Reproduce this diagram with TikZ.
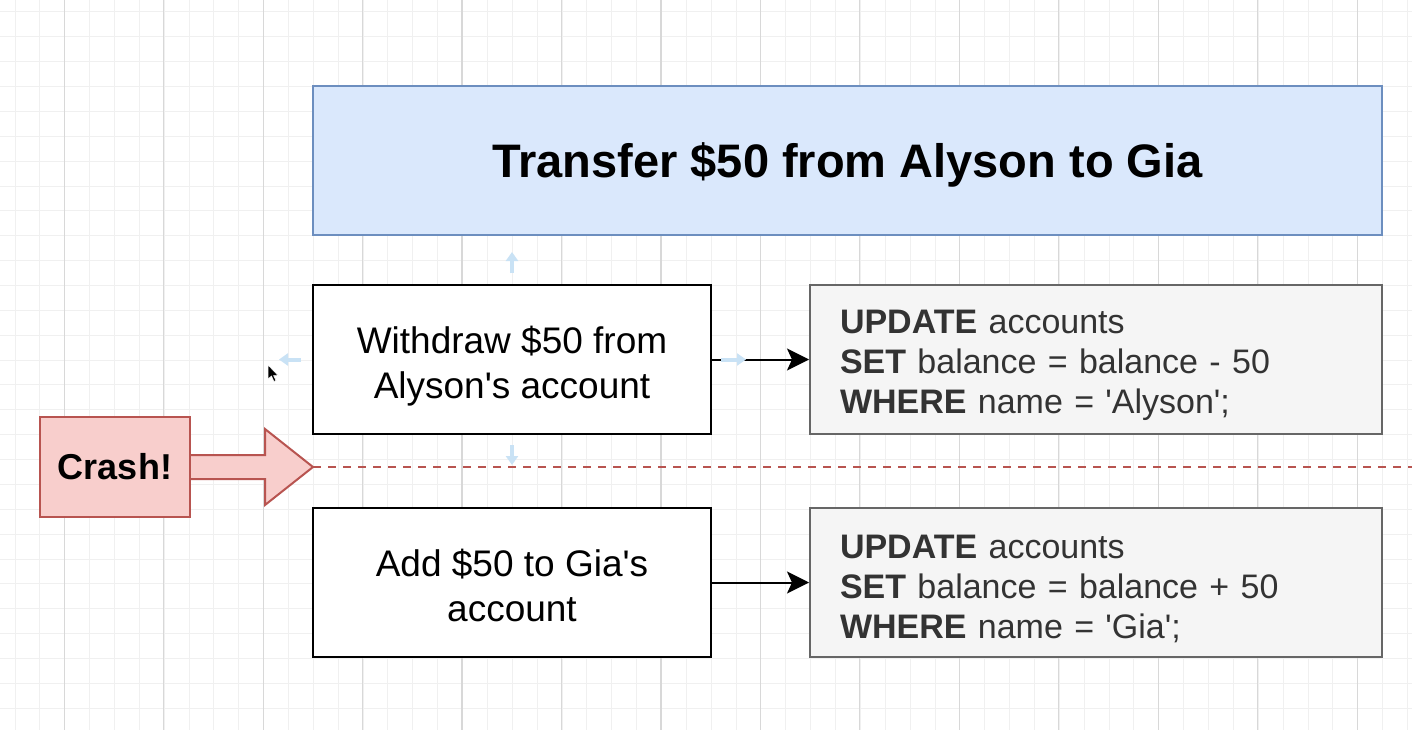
\documentclass[tikz,border=0pt]{standalone}
\usepackage{fontspec}
\setmainfont{Liberation Sans}
\usetikzlibrary{arrows.meta}
\definecolor{titlefill}{HTML}{DAE8FC}
\definecolor{titleline}{HTML}{6C8EBF}
\definecolor{crashfill}{HTML}{F8CECC}
\definecolor{crashline}{HTML}{B85450}
\definecolor{sqlfill}{HTML}{F5F5F5}
\definecolor{sqlline}{HTML}{666666}
\definecolor{sqlink}{HTML}{333333}
\definecolor{hint}{HTML}{C9E2F5}
\definecolor{gridminor}{HTML}{F0F0F0}
\definecolor{gridmajor}{HTML}{D8D8D8}
\newcommand{\kw}[1]{\textbf{#1}}
\newcommand{\q}{\textquotesingle}
\newcommand{\titlefont}{\fontsize{47}{56}\selectfont\bfseries}
\newcommand{\stepfont}{\fontsize{37}{45}\selectfont}
\newcommand{\sqlfont}{\fontsize{34}{40}\selectfont}
\newcommand{\crashfont}{\fontsize{36}{43}\selectfont\bfseries}

\begin{document}
\begin{tikzpicture}[x=1pt,y=-1pt,
    stepbox/.style={draw=black,line width=2pt,fill=white,minimum width=398pt,
                    minimum height=149pt,align=center,font=\stepfont,
                    text height=77pt,text depth=0pt},
    sqlbox/.style={draw=sqlline,line width=2pt,fill=sqlfill,text=sqlink,
                   minimum height=149pt,text width=512pt,inner xsep=30pt,
                   align=left,font=\sqlfont,
                   execute at begin node={\rule{0pt}{36pt}}},
    flow/.style={draw=black,line width=2pt,-{Stealth[length=22pt,width=22pt,inset=5pt]}},
    hintarrow/.style={draw=hint,line width=4pt,-{Triangle[width=12pt,length=9pt]}}]

 \fill[white] (0,0) rectangle (1412,730);
 \useasboundingbox (0,0) rectangle (1412,730);

 \foreach \k in {0,...,56}
   \draw[gridminor,line width=1pt] ({15+24.865*\k},0) -- ({15+24.865*\k},730);
 \foreach \k in {0,...,29}
   \draw[gridminor,line width=1pt] (0,{12+24.865*\k}) -- (1412,{12+24.865*\k});
 \foreach \k in {0,...,13}
   \draw[gridmajor,line width=1.2pt] ({64.2+99.46*\k},0) -- ({64.2+99.46*\k},730);

 \draw (847.5,160.5) node[draw=titleline,fill=titlefill,line width=2pt,
              minimum width=1069pt,minimum height=149pt,font=\titlefont,
              text depth=0pt] (T)
              {Transfer \$50 from Alyson to Gia};

 \draw (512,359.5) node[stepbox] (W)
              {Withdraw \$50 from\\Alyson\q s account};

 \draw (1096,359.5) node[sqlbox] (S1)
              {\kw{UPDATE} accounts\\
               \kw{SET} balance = balance - 50\\
               \kw{WHERE} name = \q Alyson\q;};

 \draw (512,582.5) node[stepbox] (A)
              {Add \$50 to Gia\q s\\account};

 \draw (1096,582.5) node[sqlbox] (S2)
              {\kw{UPDATE} accounts\\
               \kw{SET} balance = balance + 50\\
               \kw{WHERE} name = \q Gia\q;};

 \draw (115,467) node[draw=crashline,fill=crashfill,line width=2pt,
              minimum width=150pt,minimum height=100pt,font=\crashfont] (C)
              {Crash!};

 \coordinate (tip) at (313,467);
 \coordinate (edge) at (1412,467);

 \draw[crashline,fill=crashfill,line width=2pt,line join=miter]
   ([yshift=12pt]C.east) -- (265,455) -- (265,429) -- (tip)
   -- (265,505) -- (265,479) -- ([yshift=-12pt]C.east);
 \draw[crashline,line width=2pt,dash pattern=on 8pt off 7pt] (tip) -- (edge);

 \draw[flow] (W) -- (S1);
 \draw[flow] (A) -- (S2);

 \draw[hintarrow] ([yshift=11pt]W.north) -- ([yshift=32pt]W.north);
 \draw[hintarrow] ([yshift=-10pt]W.south) -- ([yshift=-30pt]W.south);
 \draw[hintarrow] ([xshift=-11pt]W.west) -- ([xshift=-33pt]W.west);
 \draw[hintarrow] ([xshift=9pt]W.east) -- ([xshift=34pt]W.east);

 \filldraw[black,draw=white,line width=0.5pt] (268,365) -- (268,379) -- (271.5,376)
   -- (274,381.5) -- (276,380.5) -- (273.5,375.5) -- (278,375.5) -- cycle;

\end{tikzpicture}
\end{document}
